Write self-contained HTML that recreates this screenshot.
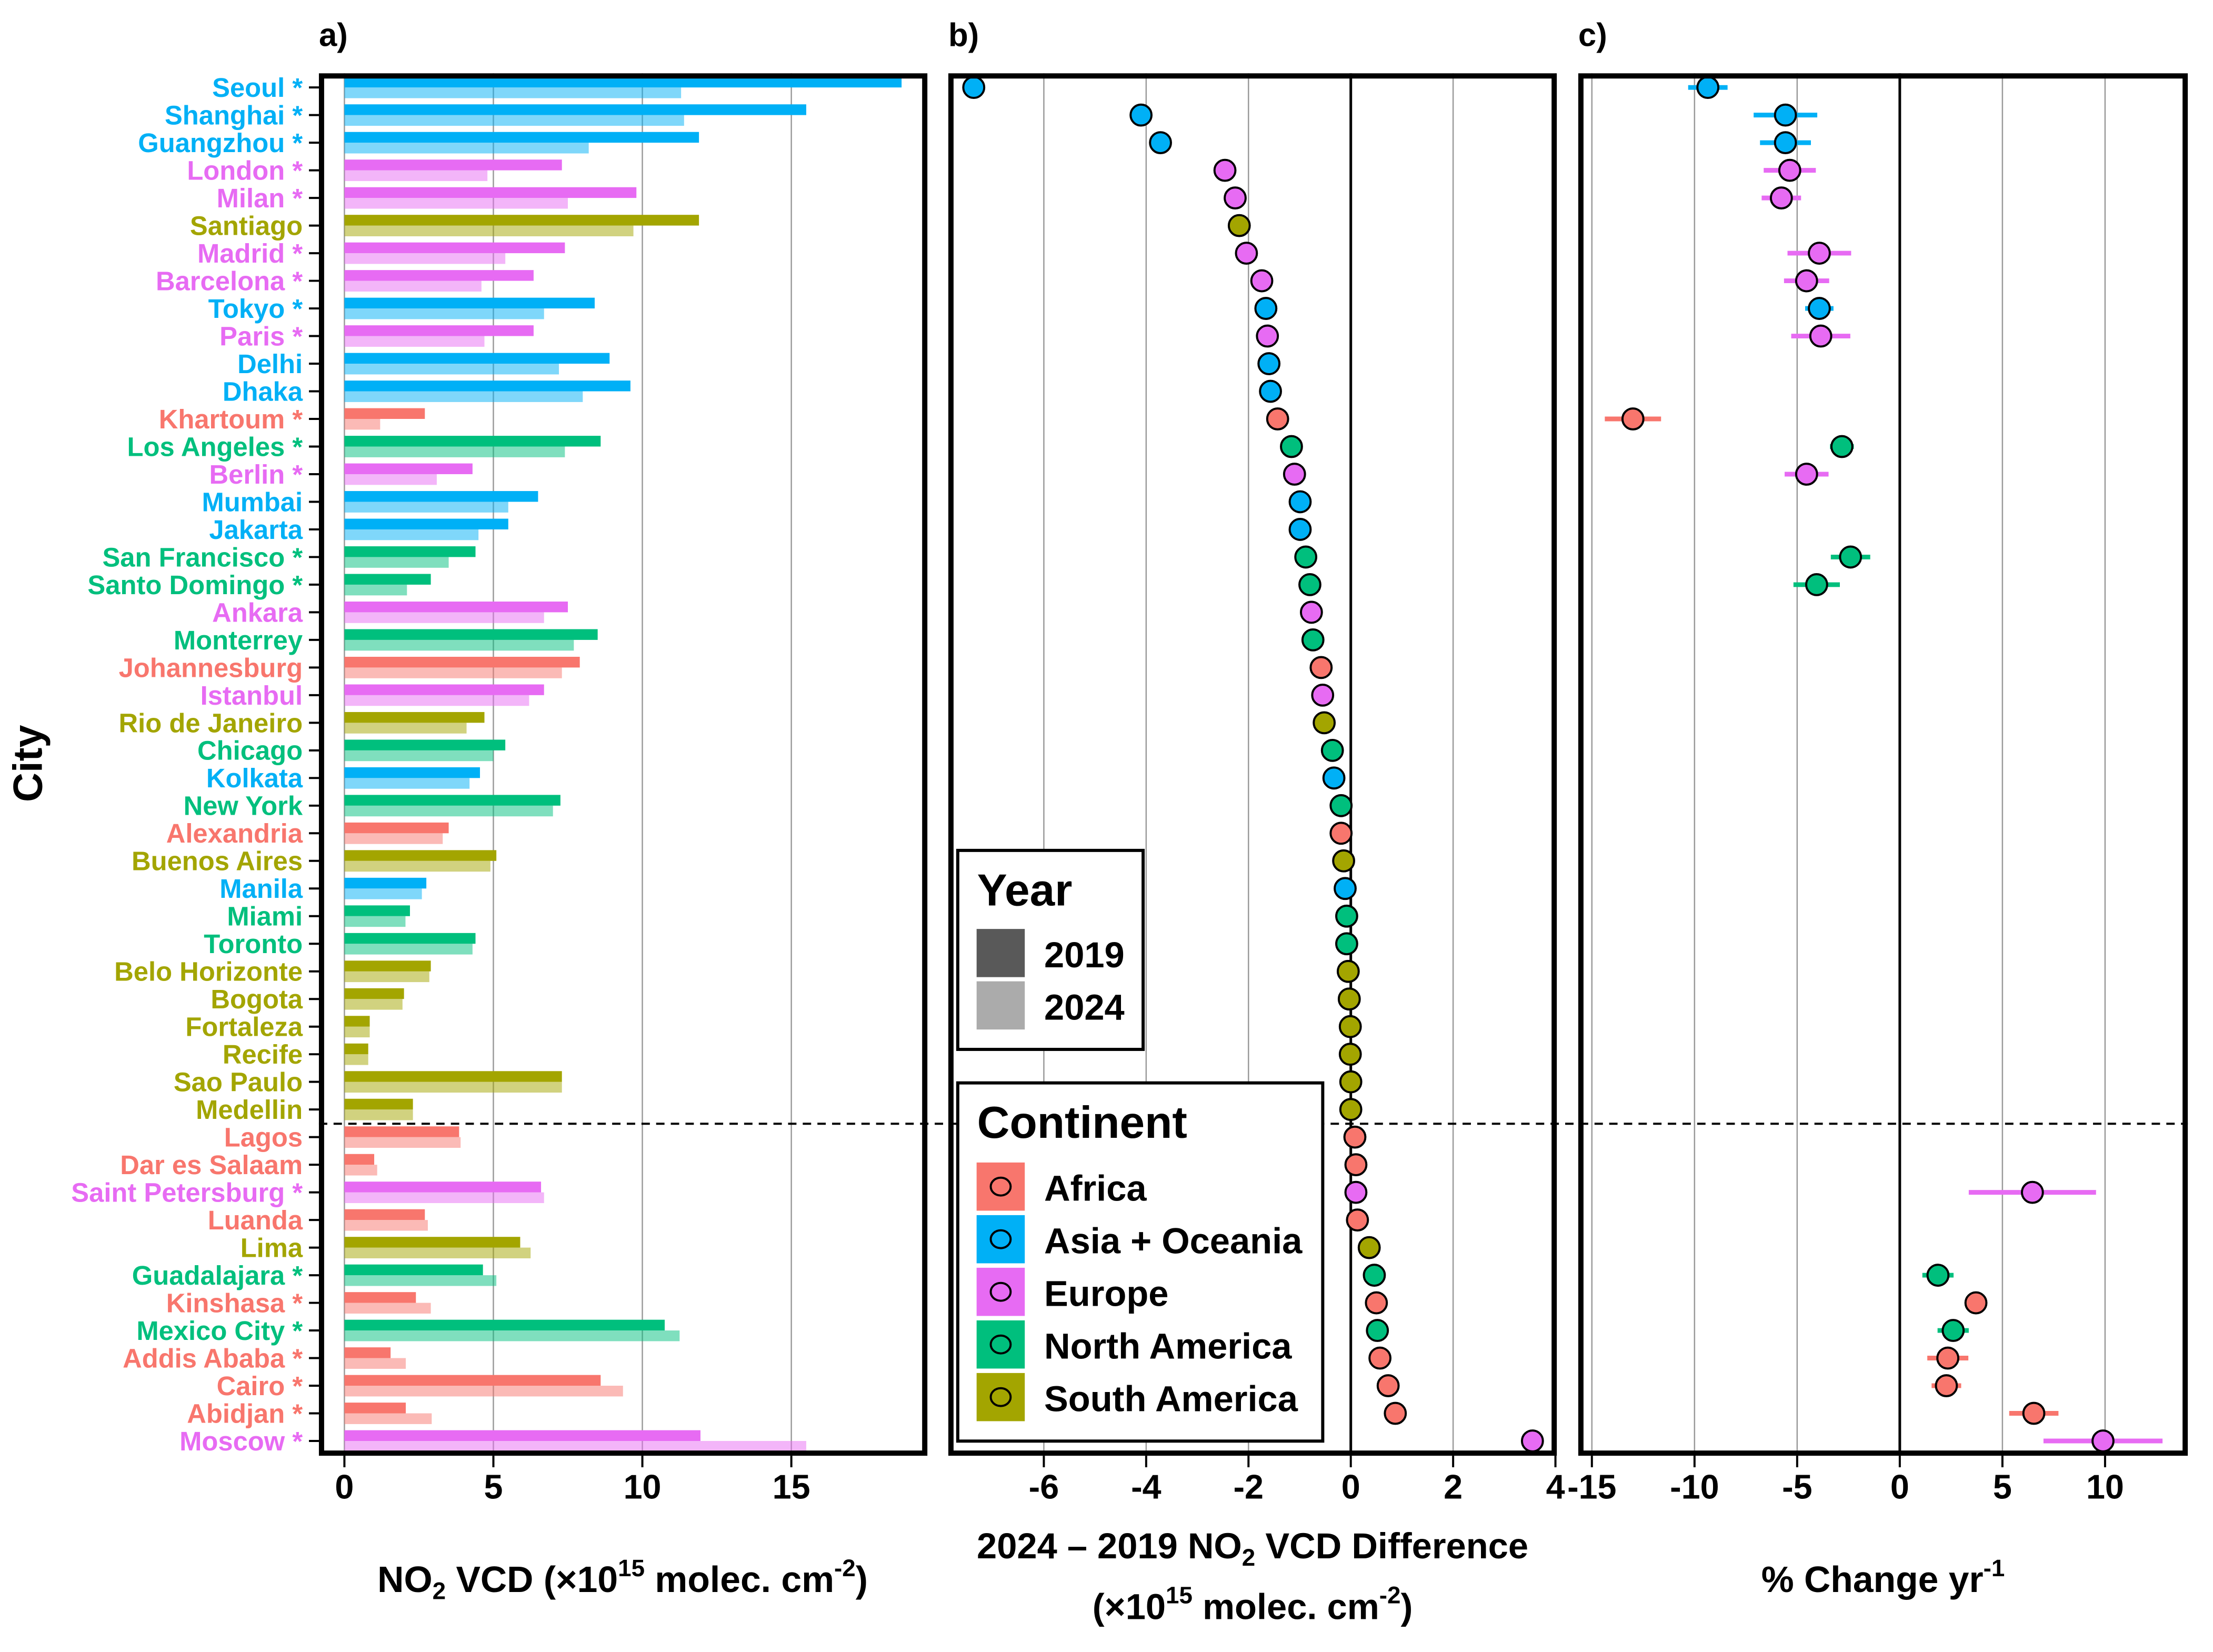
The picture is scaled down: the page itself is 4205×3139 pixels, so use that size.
<!DOCTYPE html>
<html><head><meta charset="utf-8"><style>
html,body{margin:0;padding:0;background:#fff}
svg{display:block;font-family:"Liberation Sans",Arial,sans-serif;font-weight:bold}
</style></head><body>
<svg id="chart" width="4205" height="3139" viewBox="0 0 4205 3139" xmlns="http://www.w3.org/2000/svg">
<g transform="scale(0.995)">
<g id="grid"></g><g id="marks"></g><g id="frames"></g><g id="labels"></g><g id="legend"></g>
<g>
<text x="80" y="1458" font-size="78" text-anchor="middle" transform="rotate(-90 80 1458)">City</text>
<text x="1189" y="3040" font-size="70" text-anchor="middle">NO<tspan font-size="46" dy="14">2</tspan><tspan dy="-14"> VCD (×10</tspan><tspan font-size="46" dy="-30">15</tspan><tspan dy="30"> molec. cm</tspan><tspan font-size="46" dy="-30">-2</tspan><tspan dy="30">)</tspan></text>
<text x="2392" y="2976" font-size="69" text-anchor="middle">2024 – 2019 NO<tspan font-size="46" dy="14">2</tspan><tspan dy="-14"> VCD Difference</tspan></text>
<text x="2392" y="3092" font-size="69" text-anchor="middle">(×10<tspan font-size="46" dy="-30">15</tspan><tspan dy="30"> molec. cm</tspan><tspan font-size="46" dy="-30">-2</tspan><tspan dy="30">)</tspan></text>
<text x="3596" y="3040" font-size="70" text-anchor="middle">% Change yr<tspan font-size="46" dy="-30">-1</tspan></text>
</g>
</g>
</svg>
<script>
const cities = ["Seoul","Shanghai","Guangzhou","London","Milan","Santiago","Madrid","Barcelona","Tokyo","Paris","Delhi","Dhaka","Khartoum","Los Angeles","Berlin","Mumbai","Jakarta","San Francisco","Santo Domingo","Ankara","Monterrey","Johannesburg","Istanbul","Rio de Janeiro","Chicago","Kolkata","New York","Alexandria","Buenos Aires","Manila","Miami","Toronto","Belo Horizonte","Bogota","Fortaleza","Recife","Sao Paulo","Medellin","Lagos","Dar es Salaam","Saint Petersburg","Luanda","Lima","Guadalajara","Kinshasa","Mexico City","Addis Ababa","Cairo","Abidjan","Moscow"];
const continents = ["AS","AS","AS","EU","EU","SA","EU","EU","AS","EU","AS","AS","AF","NA","EU","AS","AS","NA","NA","EU","NA","AF","EU","SA","NA","AS","NA","AF","SA","AS","NA","NA","SA","SA","SA","SA","SA","SA","AF","AF","EU","AF","SA","NA","AF","NA","AF","AF","AF","EU"];
const starred = [1,1,1,1,1,0,1,1,1,1,0,0,1,1,1,0,0,1,1,0,0,0,0,0,0,0,0,0,0,0,0,0,0,0,0,0,0,0,0,0,1,0,0,1,1,1,1,1,1,1];
const vcd2019 = [18.7,15.5,11.9,7.3,9.8,11.9,7.4,6.35,8.4,6.35,8.9,9.6,2.7,8.6,4.3,6.5,5.5,4.4,2.9,7.5,8.5,7.9,6.7,4.7,5.4,4.55,7.25,3.5,5.1,2.75,2.2,4.4,2.9,2.0,0.85,0.8,7.3,2.3,3.85,1.0,6.6,2.7,5.9,4.65,2.4,10.75,1.55,8.6,2.06,11.95];
const vcd2024 = [11.3,11.4,8.2,4.8,7.5,9.7,5.4,4.6,6.7,4.7,7.2,8.0,1.2,7.4,3.1,5.5,4.5,3.5,2.1,6.7,7.7,7.3,6.2,4.1,5.0,4.2,7.0,3.3,4.9,2.6,2.05,4.3,2.85,1.95,0.85,0.8,7.3,2.3,3.9,1.1,6.7,2.8,6.25,5.1,2.9,11.25,2.06,9.35,2.93,15.5];
const diffs = [-7.37,-4.1,-3.72,-2.46,-2.26,-2.18,-2.04,-1.74,-1.66,-1.63,-1.6,-1.57,-1.43,-1.16,-1.1,-0.99,-0.99,-0.88,-0.8,-0.77,-0.74,-0.58,-0.55,-0.52,-0.36,-0.33,-0.19,-0.19,-0.14,-0.11,-0.08,-0.08,-0.05,-0.03,-0.01,-0.01,0.0,0.0,0.08,0.1,0.1,0.13,0.36,0.46,0.5,0.52,0.57,0.73,0.87,3.55];
const pctChange = [-9.35,-5.57,-5.57,-5.36,-5.77,null,-3.92,-4.54,-3.92,-3.85,null,null,-13.0,-2.82,-4.54,null,null,-2.4,-4.05,null,null,null,null,null,null,null,null,null,null,null,null,null,null,null,null,null,null,null,null,null,6.46,null,null,1.86,3.71,2.6,2.34,2.27,6.53,9.9];
const pctErr = [0.96,1.55,1.24,1.27,0.96,null,1.55,1.1,0.69,1.44,null,null,1.37,0.58,1.07,null,null,0.96,1.13,null,null,null,null,null,null,null,null,null,null,null,null,null,null,null,null,null,null,null,null,null,3.1,null,null,0.76,0.3,0.76,1.0,0.72,1.2,2.9];
const ticksA = [0,5,10,15];
const ticksB = [-6,-4,-2,0,2,4];
const ticksC = [-15,-10,-5,0,5,10];
const contNames = ["Africa","Asia + Oceania","Europe","North America","South America"];
const contCodes = ["AF","AS","EU","NA","SA"];
const years = ["2019","2024"];

const COL = {AF:"#F8766D",AS:"#00B0F6",EU:"#E76BF3",NA:"#00BF7D",SA:"#A3A500"};
const NS="http://www.w3.org/2000/svg";
function mk(tag, attrs, parent){const e=document.createElementNS(NS,tag);for(const k in attrs)e.setAttribute(k,attrs[k]);parent.appendChild(e);return e;}
const grid=document.getElementById('grid'),marks=document.getElementById('marks'),frames=document.getElementById('frames'),labels=document.getElementById('labels'),legend=document.getElementById('legend');

const TOP=140,BOT=2780;
const panels={
 a:{x0:609,x1:1771,zero:657.7,unit:56.9,ticks:ticksA},
 b:{x0:1811,x1:2973,zero:2579.6,unit:97.7,ticks:ticksB},
 c:{x0:3014,x1:4178,zero:3628,unit:39.2,ticks:ticksC}
};
function xs(p,v){return panels[p].zero+v*panels[p].unit;}
function yRow(i){return 167+i*52.75;}

for(const p of ['a','b','c']){
  const P=panels[p];
  P.ticks.forEach(t=>{
    const x=xs(p,t);
    const isZero=(t===0&&p!=='a');
    const gl=mk('line',{x1:x,x2:x,y1:TOP,y2:BOT,stroke:isZero?'#000':'#9a9a9a','stroke-width':isZero?5:2.5},grid);
    
    
    const tk=mk('line',{x1:x,x2:x,y1:BOT,y2:BOT+22,stroke:'#000','stroke-width':4},frames);
    
    
    const tl=mk('text',{x:x,y:2862,'text-anchor':'middle','font-size':65},labels);
    tl.textContent=String(t);
    
    
  });
}

cities.forEach((c,i)=>{
  const y=yRow(i),col=COL[continents[i]];
  const b1=mk('rect',{x:xs('a',0),y:y-20.5,width:vcd2019[i]*panels.a.unit,height:20.5,fill:col},marks);
  
  
  const b2=mk('rect',{x:xs('a',0),y:y,width:vcd2024[i]*panels.a.unit,height:20.5,fill:col,'fill-opacity':0.5},marks);
  
  
  const yt=mk('line',{x1:590,x2:609,y1:y,y2:y,stroke:'#000','stroke-width':4},frames);
  
  
  const lbl=mk('text',{x:578,y:y+18,'text-anchor':'end','font-size':51,fill:col},labels);
  lbl.textContent=c+(starred[i]?' *':'');
  
  
});

cities.forEach((c,i)=>{
  const pt=mk('circle',{cx:xs('b',diffs[i]),cy:yRow(i),r:20,fill:COL[continents[i]],stroke:'#000','stroke-width':4},marks);
  
  
});

cities.forEach((c,i)=>{
  if(pctChange[i]===null) return;
  const y=yRow(i),col=COL[continents[i]];
  const eb=mk('line',{x1:xs('c',pctChange[i]-pctErr[i]),x2:xs('c',pctChange[i]+pctErr[i]),y1:y,y2:y,stroke:col,'stroke-width':9},marks);
  
  
  const pt=mk('circle',{cx:xs('c',pctChange[i]),cy:y,r:20,fill:col,stroke:'#000','stroke-width':4},marks);
  
  
});

const dl=mk('line',{x1:609,x2:4178,y1:2146,y2:2146,stroke:'#000','stroke-width':4,'stroke-dasharray':'16,12'},frames);



for(const p of ['a','b','c']){
  const P=panels[p];
  const fr=mk('rect',{x:P.x0+5,y:TOP+5,width:P.x1-P.x0-10,height:BOT-TOP-10,fill:'none',stroke:'#000','stroke-width':10},frames);
  
  
  const pl=mk('text',{x:P.x0,y:88,'font-size':62},labels);
  pl.textContent=p+')';
  
  
}

function box(x,y,w,h,name){const r=mk('rect',{x:x,y:y,width:w,height:h,fill:'#fff',stroke:'#000','stroke-width':6},legend);}
box(1829,1624,354,380,'year-legend-box');
let t=mk('text',{x:1866,y:1729,'font-size':86},legend);t.textContent='Year';


years.forEach((yr,k)=>{
  const ky=1774+k*100;
  const sq=mk('rect',{x:1865,y:ky,width:92,height:92,fill:k===0?'#595959':'#ABABAB'},legend);
  
  
  const tx=mk('text',{x:1994,y:ky+73,'font-size':69},legend);tx.textContent=yr;
  
  
});
box(1829,2068,697,684,'continent-legend-box');
t=mk('text',{x:1866,y:2173,'font-size':86},legend);t.textContent='Continent';


contNames.forEach((n,k)=>{
  const ky=2220+k*100.5;
  const sq=mk('rect',{x:1865,y:ky,width:92,height:92,fill:COL[contCodes[k]]},legend);
  
  
  mk('ellipse',{cx:1911,cy:ky+46,rx:19,ry:17,fill:'none',stroke:'#000','stroke-width':4},legend);
  const tx=mk('text',{x:1994,y:ky+73,'font-size':69},legend);tx.textContent=n;
  
  
});
</script>
</body></html>
